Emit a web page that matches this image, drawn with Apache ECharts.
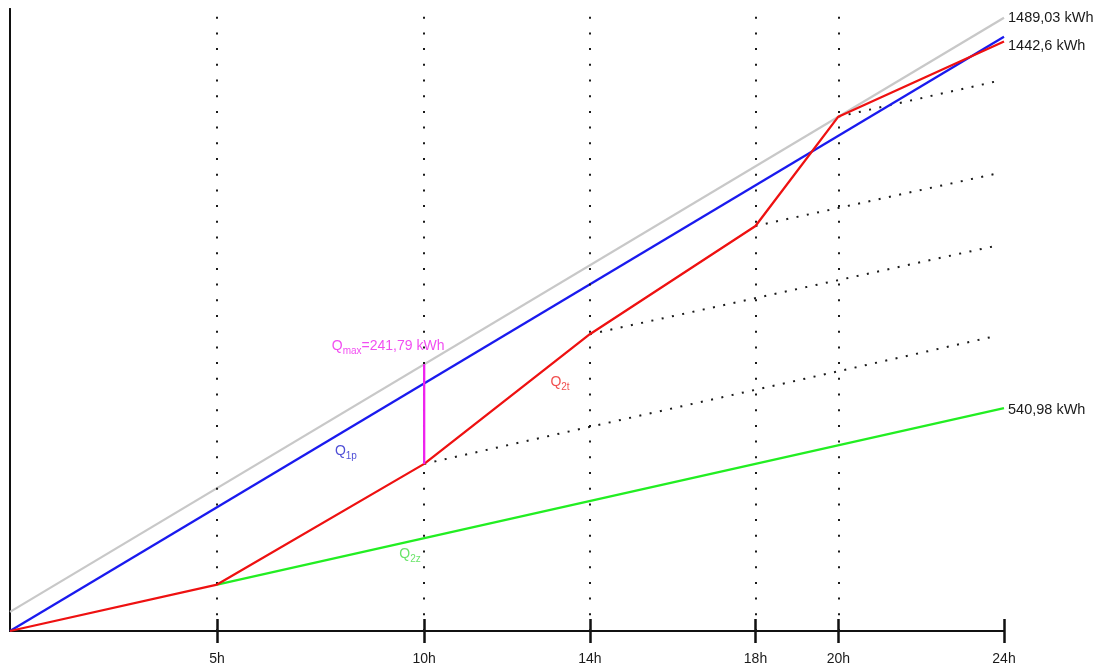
<!DOCTYPE html>
<html>
<head>
<meta charset="utf-8">
<script src="https://cdn.jsdelivr.net/npm/echarts@6/dist/echarts.min.js"></script>
<style>html,body{margin:0;padding:0;background:#fff}#c{width:1097px;height:666px}</style>
</head>
<body>
<div id="c"></div>
<script>
// ---- data ----
const tickHours = [5, 10, 14, 18, 20, 24];
const tickLabels = ['5h', '10h', '14h', '18h', '20h', '24h'];
const gridHours = [5, 10, 14, 18, 20];

const q2tHours = [0, 5, 10, 14, 18, 20, 24];
const q2tValues = [0, 112.7, 405.72, 720.5, 983.3, 1248.6, 1431];

const q1pHours = [0, 24];
const q1pValues = [0, 1442.6];

const q1pShiftHours = [0, 24];
const q1pShiftValues = [46.43, 1489.03];

const q2zHours = [5, 24];
const q2zValues = [112.7, 540.98];

const qmaxHour = 10;
const qmaxValues = [405.72, 647.51];

const dottedStartHours = [10, 14, 18, 20];
const dottedStartValues = [405.72, 720.5, 983.3, 1248.6];
const dottedEndHour = 23.8;
const dottedEndValues = [716, 935, 1110, 1334];

const endLabelTop = '1489,03 kWh';
const endLabelMid = '1442,6 kWh';
const endLabelGreen = '540,98 kWh';
const qmaxText = '241,79 kWh';

// ---- chart ----
const FONT = 'Liberation Sans, Arial, sans-serif';
const pairs = (xs, ys) => xs.map((x, i) => [x, ys[i]]);

function subRich(color) {
  return {
    q: { fontSize: 14, color: color, fontFamily: FONT, lineHeight: 20 },
    s: { fontSize: 10, color: color, fontFamily: FONT, lineHeight: 20, verticalAlign: 'bottom' },
    t: { fontSize: 14, color: color, fontFamily: FONT, lineHeight: 20 }
  };
}

function annot(coord, text, color) {
  return {
    type: 'scatter', xAxisIndex: 0, yAxisIndex: 0, silent: true,
    symbolSize: 0, data: [coord], z: 10,
    label: { show: true, position: 'inside', formatter: text, rich: subRich(color) }
  };
}

function endLbl(text, dy) {
  return { show: true, formatter: text, distance: 4, offset: [0, dy],
    color: '#1a1a1a', fontSize: 14.5, fontFamily: FONT };
}

const dottedSeries = dottedStartHours.map((h, i) => ({
  type: 'line', silent: true, symbol: 'none', z: 1,
  data: [[h, dottedStartValues[i]], [dottedEndHour, dottedEndValues[i]]],
  lineStyle: { color: '#1a1a1a', width: 2, type: [2, 8.5] }
}));

const option = {
  animation: false,
  backgroundColor: '#fff',
  grid: { left: 10, right: 93, top: 9, bottom: 33.3, containLabel: false },
  xAxis: [{
    type: 'value', min: 0, max: 24, position: 'bottom',
    axisLine: { show: true, lineStyle: { color: '#111', width: 2 } },
    axisTick: { show: true, customValues: tickHours, length: 12, lineStyle: { color: '#111', width: 2.5 } },
    axisLabel: { show: true, customValues: tickHours, margin: 21, color: '#1a1a1a', fontSize: 14, fontFamily: FONT,
      formatter: v => tickLabels[tickHours.indexOf(v)] },
    splitLine: { show: false }
  }, {
    type: 'value', min: 0, max: 24, position: 'bottom', offset: 0,
    axisLine: { show: false },
    axisTick: { show: true, inside: true, customValues: tickHours, length: 12, lineStyle: { color: '#111', width: 2.5 } },
    axisLabel: { show: false },
    splitLine: { show: false }
  }],
  yAxis: [{
    type: 'value', min: 0, max: 1510, position: 'left',
    axisLine: { show: true, lineStyle: { color: '#111', width: 2 } },
    axisTick: { show: false }, axisLabel: { show: false }, splitLine: { show: false }
  }, {
    type: 'value', min: 0, max: 1510, position: 'right',
    axisLine: { show: true, lineStyle: { color: '#111', width: 2 } },
    axisTick: { show: false }, axisLabel: { show: false }, splitLine: { show: false }
  }],
  series: [
    {
      type: 'line', name: 'grid', silent: true, symbol: 'none', data: [], z: 1,
      markLine: {
        silent: true, symbol: 'none', label: { show: false },
        lineStyle: { color: '#1a1a1a', width: 2, type: [2, 13.7] },
        data: gridHours.map(h => ({ xAxis: h }))
      }
    },
    ...dottedSeries,
    {
      type: 'line', name: 'shift', symbol: 'none', z: 2,
      lineStyle: { color: '#c8c8c8', width: 2.3 },
      data: pairs(q1pShiftHours, q1pShiftValues),
      endLabel: endLbl(endLabelTop, 0)
    },
    {
      type: 'line', name: 'Q2z', symbol: 'none', z: 3,
      lineStyle: { color: '#22ee22', width: 2.3 },
      data: pairs(q2zHours, q2zValues),
      endLabel: endLbl(endLabelGreen, 2)
    },
    {
      type: 'line', name: 'Q1p', symbol: 'none', z: 4,
      lineStyle: { color: '#1a1aee', width: 2.3 },
      data: pairs(q1pHours, q1pValues),
      endLabel: endLbl(endLabelMid, 9)
    },
    {
      type: 'line', name: 'Q2t', symbol: 'none', z: 5,
      lineStyle: { color: '#ee1111', width: 2.3 },
      data: pairs(q2tHours, q2tValues)
    },
    {
      type: 'line', name: 'Qmax', symbol: 'none', z: 6,
      lineStyle: { color: '#ee22ee', width: 2.3 },
      data: qmaxValues.map(v => [qmaxHour, v])
    },
    annot([8.11, 437.5], '{q|Q}{s|1p}', '#2222cc'),
    annot([13.28, 604.6], '{q|Q}{s|2t}', '#ee2222'),
    annot([9.66, 185.7], '{q|Q}{s|2z}', '#44dd44'),
    annot([9.13, 691.8], '{q|Q}{s|max}{t|=' + qmaxText + '}', '#ee22ee')
  ]
};

const chart = echarts.init(document.getElementById('c'), null, { renderer: 'canvas' });
chart.setOption(option);
</script>
</body>
</html>
